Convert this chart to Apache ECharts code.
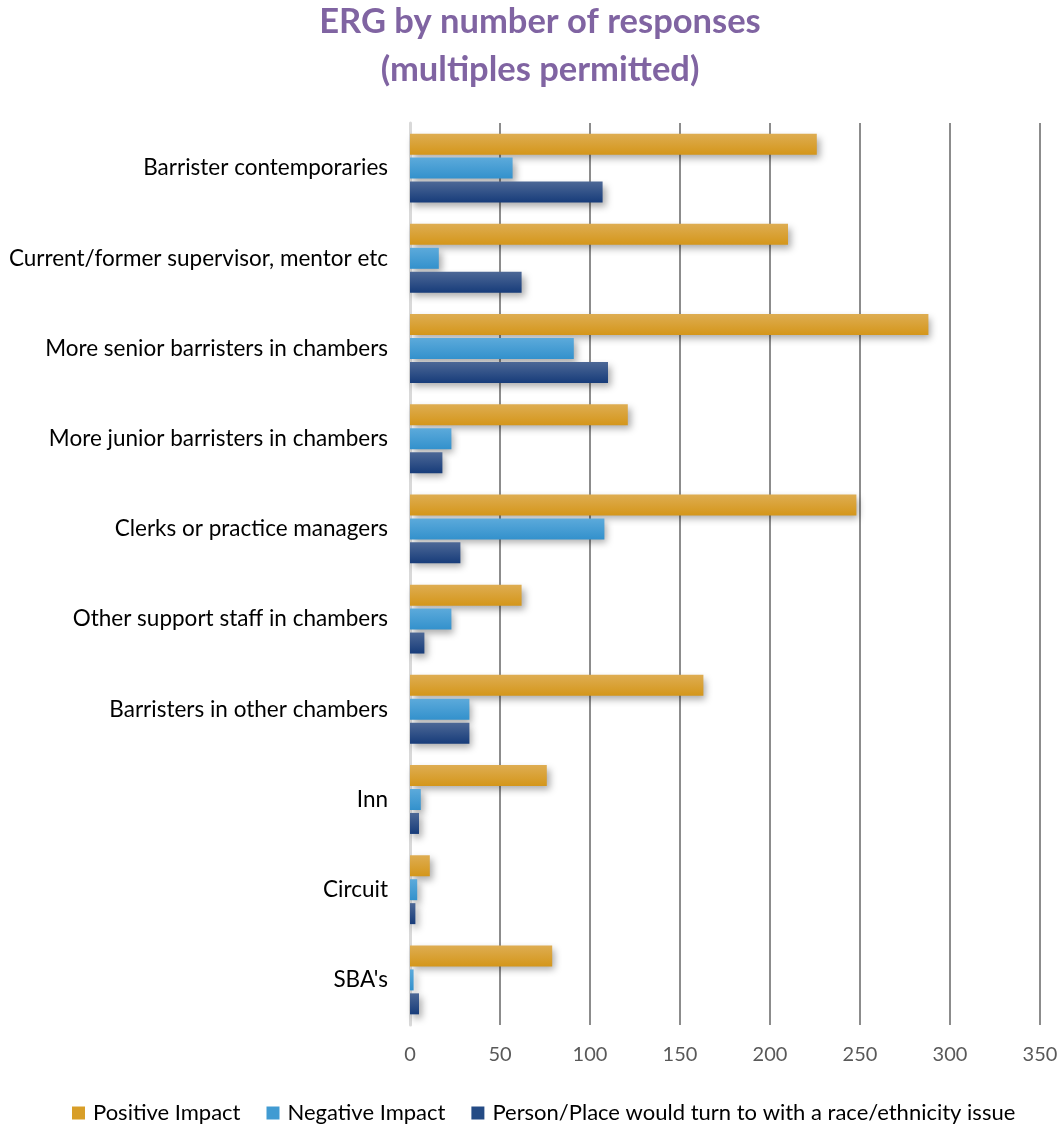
<!DOCTYPE html>
<html>
<head>
<meta charset="utf-8">
<script src="https://cdn.jsdelivr.net/npm/echarts@6/dist/echarts.min.js"></script>
<style>
html,body{margin:0;padding:0;background:#fff;}
#chart{width:1061px;height:1124px;}
</style>
</head>
<body>
<div id="chart"></div>
<script>
var categories = [
  "Barrister contemporaries",
  "Current/former supervisor, mentor etc",
  "More senior barristers in chambers",
  "More junior barristers in chambers",
  "Clerks or practice managers",
  "Other support staff in chambers",
  "Barristers in other chambers",
  "Inn",
  "Circuit",
  "SBA's"
];
var seriesNames = ["Positive Impact", "Negative Impact", "Person/Place would turn to with a race/ethnicity issue"];
var positiveImpact = [226, 210, 288, 121, 248, 62, 163, 76, 11, 79];
var negativeImpact = [57, 16, 91, 23, 108, 23, 33, 6, 4, 2];
var personPlace = [107, 62, 110, 18, 28, 8, 33, 5, 3, 5];
var xTicks = [0, 50, 100, 150, 200, 250, 300, 350];

var FONT = 'Lato, "Open Sans", sans-serif';
function grad(top, bottom) {
  return new echarts.graphic.LinearGradient(0, 0, 0, 1, [
    {offset: 0, color: top}, {offset: 1, color: bottom}
  ]);
}
function mkSeries(name, data, top, bottom) {
  return {
    name: name,
    type: 'bar',
    data: data,
    barWidth: 21,
    barGap: '14%',
    itemStyle: {
      color: grad(top, bottom),
      shadowBlur: 7,
      shadowOffsetX: 3,
      shadowOffsetY: 4,
      shadowColor: 'rgba(0,0,0,0.33)'
    },
    emphasis: {disabled: true}
  };
}
var chart = echarts.init(document.getElementById('chart'));
chart.setOption({
  backgroundColor: '#ffffff',
  animation: false,
  title: {
    text: 'ERG by number of responses\n(multiples permitted)',
    left: 540,
    top: -2,
    padding: 0,
    textAlign: 'center',
    textStyle: {
      fontFamily: FONT,
      fontSize: 34.5,
      fontWeight: 'bold',
      color: '#8064A2',
      lineHeight: 48
    }
  },
  legend: {
    bottom: 0,
    left: 72,
    padding: 0,
    itemWidth: 13,
    itemHeight: 13,
    itemGap: 26,
    icon: 'rect',
    textStyle: {fontFamily: FONT, fontSize: 22, color: '#000', padding: [0, 0, 0, 3]},
    data: [
      {name: seriesNames[0], itemStyle: {color: '#D89E28'}},
      {name: seriesNames[1], itemStyle: {color: '#419BD2'}},
      {name: seriesNames[2], itemStyle: {color: '#244B85'}}
    ]
  },
  grid: {left: 410, right: 21, top: 123, bottom: 99, containLabel: false},
  xAxis: {
    type: 'value',
    min: 0,
    max: 350,
    interval: 50,
    axisLine: {show: false},
    axisTick: {show: false},
    axisLabel: {
      fontFamily: FONT, fontSize: 20, color: '#595959', margin: 20,
      formatter: function (v) { return xTicks.indexOf(v) >= 0 ? String(v) : ''; }
    },
    splitLine: {show: true, lineStyle: {color: '#8c8c8c', width: 2}}
  },
  yAxis: {
    type: 'category',
    data: categories,
    inverse: true,
    axisLine: {show: true, lineStyle: {color: '#d9d9d9', width: 3}},
    axisTick: {show: false},
    axisLabel: {fontFamily: FONT, fontSize: 22.5, color: '#000', margin: 22}
  },
  series: [
    mkSeries(seriesNames[0], positiveImpact, '#DEAD52', '#D4961A'),
    mkSeries(seriesNames[1], negativeImpact, '#5CAADB', '#3391CC'),
    mkSeries(seriesNames[2], personPlace, '#4D6896', '#173C7A')
  ]
});
</script>
</body>
</html>
